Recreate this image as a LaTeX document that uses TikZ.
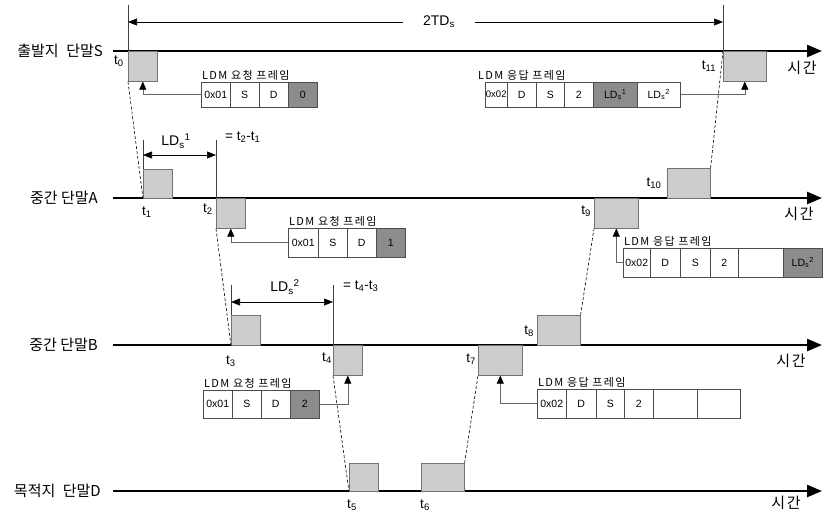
\documentclass[tikz,border=0pt]{standalone}
\usepackage{fontspec}
\setmainfont{Liberation Sans}
\newfontfamily\kr{Noto Sans CJK KR}
\newfontfamily\krw{Noto Sans CJK KR}[LetterSpace=12]
\usetikzlibrary{arrows.meta}
\begin{document}
\begin{tikzpicture}[x=1pt,y=-1pt,
  axis/.style={line width=2.4pt,-{Triangle[length=15pt,width=12pt]}},
  tbox/.style={draw=black!55,fill=black!20,line width=0.6pt,inner sep=0pt,anchor=north west},
  cell/.style={draw=black!70,line width=0.5pt,inner sep=0pt,anchor=west,font=\fontsize{10.5}{12}\selectfont},
  dark/.style={fill=black!45},
  lbl/.style={font=\kr\fontsize{15}{17}\selectfont,anchor=east,inner sep=0pt},
  tlbl/.style={font=\fontsize{13.5}{15}\selectfont,inner sep=0pt},
  tm/.style={font=\krw\fontsize{15}{17}\selectfont,inner sep=0pt},
  flbl/.style={font=\krw\fontsize{11}{13}\selectfont,anchor=south west,inner sep=1pt},
  conn/.style={draw=black!60,line width=0.6pt,-{Triangle[length=8pt,width=7pt,color=black]}},
  dline/.style={line width=0.6pt,dash pattern=on 3pt off 2pt},
  dimarrow/.style={line width=0.6pt,{Triangle[length=9pt,width=7pt]}-{Triangle[length=9pt,width=7pt]}},
  guide/.style={line width=0.6pt,draw=black!75}
]
\useasboundingbox (0,0) rectangle (823,512);

% axes
\coordinate (sL) at (113,51);  \coordinate (sR) at (822,51);
\coordinate (aL) at (113,198); \coordinate (aR) at (822,198);
\coordinate (bL) at (113,345); \coordinate (bR) at (822,345);
\coordinate (dL) at (113,491); \coordinate (dR) at (822,491);
\draw[axis] (sL) -- (sR);
\draw[axis] (aL) -- (aR);
\draw[axis] (bL) -- (bR);
\draw[axis] (dL) -- (dR);

\node[lbl] (labS) at (103,51) {출발지\hspace{0.5em}단말S};
\node[lbl] (labA) at (98,198) {중간 단말A};
\node[lbl] (labB) at (98,345) {중간 단말B};
\node[lbl] (labD) at (101,491) {목적지\hspace{0.5em}단말D};

\node[tm] (timeS) at (802,68) {시간};
\node[tm] (timeA) at (799,214) {시간};
\node[tm] (timeB) at (791,361) {시간};
\node[tm] (timeD) at (786,503) {시간};

% timing boxes
\node[tbox,minimum width=29pt,minimum height=30pt] (b0) at (128,51) {};
\node[tbox,minimum width=29pt,minimum height=29pt] (b1) at (143,169) {};
\node[tbox,minimum width=29pt,minimum height=30pt] (b2) at (216,198) {};
\node[tbox,minimum width=29pt,minimum height=30pt] (b3) at (231,315) {};
\node[tbox,minimum width=29pt,minimum height=30pt] (b4) at (333,345) {};
\node[tbox,minimum width=29pt,minimum height=28pt] (b5) at (349,463) {};
\node[tbox,minimum width=43pt,minimum height=28pt] (b6) at (421,463) {};
\node[tbox,minimum width=44pt,minimum height=30pt] (b7) at (478,345) {};
\node[tbox,minimum width=43pt,minimum height=30pt] (b8) at (537,315) {};
\node[tbox,minimum width=44pt,minimum height=30pt] (b9) at (594,198) {};
\node[tbox,minimum width=43pt,minimum height=30pt] (b10) at (667,168) {};
\node[tbox,minimum width=43pt,minimum height=30pt] (b11) at (723,51) {};

% time labels
\node[tlbl] (t0) at (119,61) {t\textsubscript{0}};
\node[tlbl] (t1) at (147,212) {t\textsubscript{1}};
\node[tlbl] (t2) at (208,209) {t\textsubscript{2}};
\node[tlbl] (t3) at (231,361) {t\textsubscript{3}};
\node[tlbl] (t4) at (327,358) {t\textsubscript{4}};
\node[tlbl] (t5) at (352,505) {t\textsubscript{5}};
\node[tlbl] (t6) at (425,505) {t\textsubscript{6}};
\node[tlbl] (t7) at (471,359) {t\textsubscript{7}};
\node[tlbl] (t8) at (529,331) {t\textsubscript{8}};
\node[tlbl] (t9) at (586,211) {t\textsubscript{9}};
\node[tlbl] (t10) at (654,183) {t\textsubscript{10}};
\node[tlbl] (t11) at (709,66) {t\textsubscript{11}};

% propagation dashed lines
\draw[dline] (b0.south west) -- (b1.south west);
\draw[dline] (b2.south west) -- (b3.south west);
\draw[dline] (b4.south west) -- (b5.south west);
\draw[dline] (b6.north east) -- (b7.south west);
\draw[dline] (b8.north east) -- (b9.south west);
\draw[dline] (b10.north east) -- (b11.north west);

% 2TDs
\coordinate (g0) at (128,5); \coordinate (g11) at (723,5);
\draw[guide] (g0) -- (b0.north west);
\draw[guide] (g11) -- (b11.north west);
\coordinate (tdL) at (128,22); \coordinate (tdR) at (723,22);
\draw[dimarrow] (tdL) -- (tdR);
\node[fill=white,minimum width=72pt,inner sep=0pt,font=\fontsize{14}{16}\selectfont] (td) at (439,22) {2TD\textsubscript{s}};

% LDs1
\coordinate (l1a) at (143,140); \coordinate (l1b) at (216,140);
\draw[guide] (l1a) -- (b1.north west);
\draw[guide] (l1b) -- (b2.north west);
\coordinate (d1a) at (143,155); \coordinate (d1b) at (216,155);
\draw[dimarrow] (d1a) -- (d1b);
\node[tlbl,font=\fontsize{14}{16}\selectfont] (lds1) at (176,141) {LD\textsubscript{s}\textsuperscript{1}};
\node[tlbl,font=\fontsize{13.5}{15}\selectfont,anchor=west] (eq1) at (225,137) {= t\textsubscript{2}-t\textsubscript{1}};

% LDs2
\coordinate (l2a) at (231,285); \coordinate (l2b) at (333,285);
\draw[guide] (l2a) -- (b3.north west);
\draw[guide] (l2b) -- (b4.north west);
\coordinate (d2a) at (231,302); \coordinate (d2b) at (333,302);
\draw[dimarrow] (d2a) -- (d2b);
\node[tlbl,font=\fontsize{14}{16}\selectfont] (lds2) at (285,287) {LD\textsubscript{s}\textsuperscript{2}};
\node[tlbl,font=\fontsize{13.5}{15}\selectfont,anchor=west] (eq2) at (343,286) {= t\textsubscript{4}-t\textsubscript{3}};

% S request frame
\begin{scope}[every node/.append style={minimum height=25pt}]
\node[cell,minimum width=29pt] (sq1) at (201,94.5) {0x01};
\node[cell,minimum width=29pt] (sq2) at (230,94.5) {S};
\node[cell,minimum width=29pt] (sq3) at (259,94.5) {D};
\node[cell,dark,minimum width=29pt] (sq4) at (288,94.5) {0};
\end{scope}
\node[flbl] (fsq) at (sq1.north west) {LDM 요청 프레임};
\draw[conn] (sq1.west) -| (b0.south);

% S response frame
\begin{scope}[every node/.append style={minimum height=25pt}]
\node[cell,minimum width=22pt,font=\fontsize{9.5}{11}\selectfont] (sr1) at (485,94.5) {0x02};
\node[cell,minimum width=29pt] (sr2) at (507,94.5) {D};
\node[cell,minimum width=28pt] (sr3) at (536,94.5) {S};
\node[cell,minimum width=29pt] (sr4) at (564,94.5) {2};
\node[cell,dark,minimum width=44pt] (sr5) at (593,94.5) {LD\textsubscript{s}\textsuperscript{1}};
\node[cell,minimum width=43pt] (sr6) at (637,94.5) {LD\textsubscript{s}\textsuperscript{2}};
\end{scope}
\node[flbl] (fsr) at ([xshift=-8pt]sr1.north west) {LDM 응답 프레임};
\draw[conn] (sr6.east) -| (b11.south);

% A request frame
\begin{scope}[every node/.append style={minimum height=29pt}]
\node[cell,minimum width=30pt] (aq1) at (288,242.5) {0x01};
\node[cell,minimum width=29pt] (aq2) at (318,242.5) {S};
\node[cell,minimum width=29pt] (aq3) at (347,242.5) {D};
\node[cell,dark,minimum width=29pt] (aq4) at (376,242.5) {1};
\end{scope}
\node[flbl] (faq) at (aq1.north west) {LDM 요청 프레임};
\draw[conn] (aq1.west) -| (b2.south);

% A response frame
\begin{scope}[every node/.append style={minimum height=29pt}]
\node[cell,minimum width=27pt] (ar1) at (623,262.5) {0x02};
\node[cell,minimum width=30pt] (ar2) at (650,262.5) {D};
\node[cell,minimum width=30pt] (ar3) at (680,262.5) {S};
\node[cell,minimum width=28pt] (ar4) at (710,262.5) {2};
\node[cell,minimum width=45pt] (ar5) at (738,262.5) {};
\node[cell,dark,minimum width=39pt] (ar6) at (783,262.5) {LD\textsubscript{s}\textsuperscript{2}};
\end{scope}
\node[flbl] (far) at (ar1.north west) {LDM 응답 프레임};
\draw[conn] (ar1.west) -| (b9.south);

% B request frame
\begin{scope}[every node/.append style={minimum height=28pt}]
\node[cell,minimum width=29pt] (bq1) at (203,404) {0x01};
\node[cell,minimum width=29pt] (bq2) at (232,404) {S};
\node[cell,minimum width=29pt] (bq3) at (261,404) {D};
\node[cell,dark,minimum width=29pt] (bq4) at (290,404) {2};
\end{scope}
\node[flbl] (fbq) at (bq1.north west) {LDM 요청 프레임};
\draw[conn] (bq4.east) -| (b4.south);

% B response frame
\begin{scope}[every node/.append style={minimum height=29pt}]
\node[cell,minimum width=29pt] (br1) at (537,403.5) {0x02};
\node[cell,minimum width=30pt] (br2) at (566,403.5) {D};
\node[cell,minimum width=28pt] (br3) at (596,403.5) {S};
\node[cell,minimum width=29pt] (br4) at (624,403.5) {2};
\node[cell,minimum width=44pt] (br5) at (653,403.5) {};
\node[cell,minimum width=43pt] (br6) at (697,403.5) {};
\end{scope}
\node[flbl] (fbr) at (br1.north west) {LDM 응답 프레임};
\draw[conn] (br1.west) -| (b7.south);

\end{tikzpicture}
\end{document}
